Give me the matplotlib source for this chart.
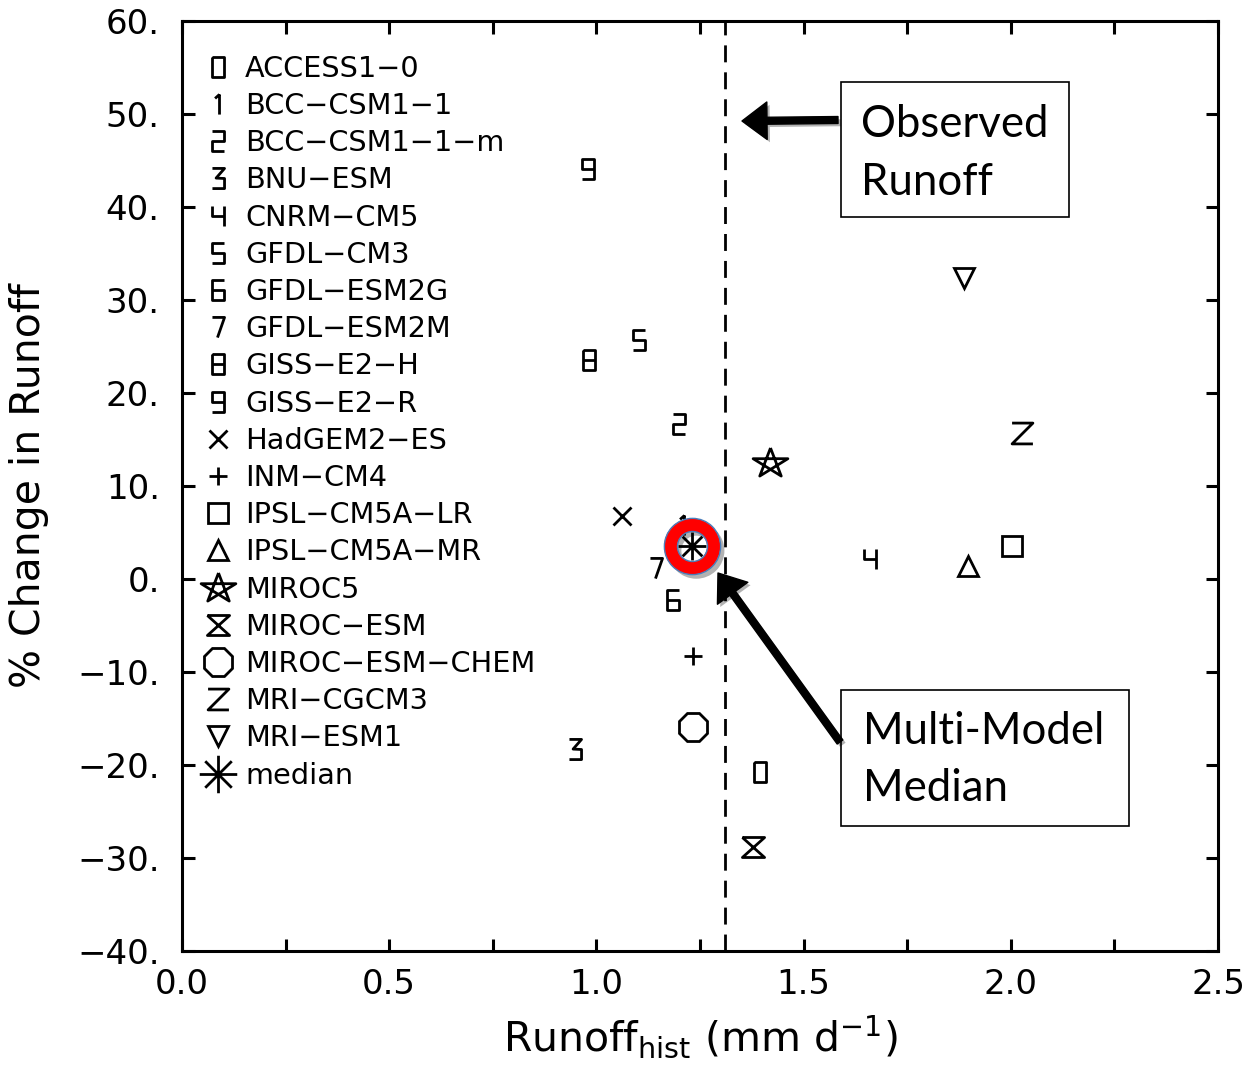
import numpy as np
import matplotlib
matplotlib.use("Agg")
import matplotlib.pyplot as plt
from matplotlib.path import Path
from matplotlib.patches import Rectangle, FancyArrowPatch
import matplotlib.patheffects as pe
from matplotlib.ticker import MultipleLocator, FuncFormatter

# ---------------- data ----------------
models = ["ACCESS1\u22120", "BCC\u2212CSM1\u22121", "BCC\u2212CSM1\u22121\u2212m", "BNU\u2212ESM",
          "CNRM\u2212CM5", "GFDL\u2212CM3", "GFDL\u2212ESM2G", "GFDL\u2212ESM2M",
          "GISS\u2212E2\u2212H", "GISS\u2212E2\u2212R", "HadGEM2\u2212ES", "INM\u2212CM4",
          "IPSL\u2212CM5A\u2212LR", "IPSL\u2212CM5A\u2212MR", "MIROC5", "MIROC\u2212ESM",
          "MIROC\u2212ESM\u2212CHEM", "MRI\u2212CGCM3", "MRI\u2212ESM1"]
runoff_hist = [1.395, 1.209, 1.200, 0.948, 1.660, 1.103, 1.185, 1.144, 0.982, 0.980,
               1.061, 1.233, 2.002, 1.897, 1.419, 1.378, 1.233, 2.027, 1.888]
pct_change = [-20.75, 5.8, 16.7, -18.3, 2.15, 25.7, -2.3, 1.2, 23.5, 44.1,
              6.8, -8.3, 3.5, 1.35, 12.5, -28.8, -15.9, 15.75, 32.4]
median_label = "median"
median_runoff = 1.231
median_change = 3.5
observed_runoff = 1.31

xlim = (0.0, 2.5)
ylim = (-40, 60)

# ---------------- marker shapes ----------------
def strokes(*lines):
    verts, codes = [], []
    for ln in lines:
        for i, p in enumerate(ln):
            verts.append(p)
            codes.append(Path.MOVETO if i == 0 else Path.LINETO)
    return Path(np.array(verts, float), codes)

w, h = 0.3, 0.5
TL, TR, ML, MR, BL, BR = (-w, h), (w, h), (-w, 0), (w, 0), (-w, -h), (w, -h)
digit = {
    0: strokes([TL, TR, BR, BL, TL]),
    1: strokes([(0.05, h), (0.05, -h)], [(0.05, h), (-0.17, 0.3)]),
    2: strokes([TL, TR, MR, ML, BL, BR]),
    3: strokes([TL, TR, (-0.12, 0.02), MR, BR, BL]),
    4: strokes([TL, ML, MR], [TR, BR]),
    5: strokes([TR, TL, ML, MR, BR, BL]),
    6: strokes([TR, TL, BL, BR, MR, ML]),
    7: strokes([TL, TR, (-0.05, -h)]),
    8: strokes([TL, TR, BR, BL, TL], [ML, MR]),
    9: strokes([MR, ML, TL, TR, BR, BL]),
}
z_mark = strokes([(-0.45, 0.45), (0.45, 0.45), (-0.45, -0.45), (0.45, -0.45)])
hourglass = strokes([(-0.5, 0.45), (0.5, 0.45), (-0.5, -0.45), (0.5, -0.45), (-0.5, 0.45)])
ang = np.deg2rad(90 + 72 * np.array([0, 2, 4, 1, 3, 0]))
star = strokes(list(zip(np.cos(ang), 0.85 * np.sin(ang))))
asterisk = strokes([(-1, 0), (1, 0)], [(0, -1), (0, 1)],
                   [(-0.707, -0.707), (0.707, 0.707)], [(-0.707, 0.707), (0.707, -0.707)])

marker_list = [digit[0], digit[1], digit[2], digit[3], digit[4], digit[5], digit[6],
               digit[7], digit[8], digit[9], "x", "+", "s", "^", star, hourglass, "8",
               z_mark, "v"]
size_list = [14.5, 14.5, 14.5, 14.5, 14.5, 14.5, 14.5, 14.5, 14.5, 14.5,
             13.5, 13.5, 15, 15, 25, 16, 22.5, 15, 15]

# ---------------- figure ----------------
plt.rcParams["font.family"] = ["DejaVu Sans"]
plt.rcParams["mathtext.fontset"] = "dejavusans"
W, H = 1255, 1068
fig = plt.figure(figsize=(W / 100, H / 100), dpi=100)
ax = fig.add_axes([182 / W, 1 - 951 / H, (1218 - 182) / W, (951 - 21) / H])

handles = []
for name, xv, yv, mk, ms in zip(models, runoff_hist, pct_change, marker_list, size_list):
    ln, = ax.plot([xv], [yv], linestyle="none", marker=mk, markersize=ms,
                  mfc="none", mec="black", mew=2.0, label=name, zorder=3)
    handles.append(ln)

ax.axvline(observed_runoff, color="black", lw=2.0, dashes=(6.1, 3.6), zorder=2)

# highlight ring around the median
ax.plot([median_runoff], [median_change], linestyle="none", marker="o", markersize=31,
        mfc="none", mec="#ff0000", mew=9.5, zorder=5,
        path_effects=[pe.SimpleLineShadow(offset=(3, -3), shadow_color="black", alpha=0.3),
                      pe.Normal()])
for msz in (40.5, 21.6):
    ax.plot([median_runoff], [median_change], linestyle="none", marker="o", markersize=msz,
            mfc="none", mec="#4a7ebb", mew=1.0, zorder=6)
med, = ax.plot([median_runoff], [median_change], linestyle="none", marker=asterisk,
               markersize=20, mfc="none", mec="black", mew=2.0, label=median_label, zorder=7)
handles.append(med)

ax.set_xlim(*xlim)
ax.set_ylim(*ylim)
ax.xaxis.set_major_locator(MultipleLocator(0.5))
ax.xaxis.set_minor_locator(MultipleLocator(0.25))
ax.yaxis.set_major_locator(MultipleLocator(10))
ax.xaxis.set_major_formatter(FuncFormatter(lambda v, p: f"{v:.1f}"))
ax.yaxis.set_major_formatter(FuncFormatter(lambda v, p: f"{v:.0f}.".replace("-", "\u2212")))
ax.tick_params(which="both", direction="in", top=True, right=True, length=9, width=2.2,
               labelsize=24.5)
ax.tick_params(axis="x", which="both", pad=12)
ax.tick_params(axis="y", which="both", pad=16)
for s in ax.spines.values():
    s.set_linewidth(2.2)

ax.set_xlabel(r"Runoff$_{\mathrm{hist}}$ (mm d$^{-1}$)", fontsize=29.5, labelpad=10)
ax.set_ylabel("% Change in Runoff", fontsize=29.5)
ax.yaxis.set_label_coords(-0.128, 0.5)

leg = ax.legend(handles=handles, loc="upper left", bbox_to_anchor=(0, 1 - 19.5 / 930),
                frameon=False, fontsize=20.7, handlelength=1.5, handletextpad=0.2,
                borderaxespad=0.3, borderpad=0.2, labelspacing=0.32, numpoints=1)
leg.legend_handles[-1].set_markersize(27)

# ---------------- annotations ----------------
def fx(px):
    return px / W

def fy(py):
    return 1 - py / H

for (x0, y0, x1, y1) in [(841, 82, 1069, 217), (841, 690, 1129, 826)]:
    fig.add_artist(Rectangle((fx(x0), fy(y1)), fx(x1) - fx(x0), fy(y0) - fy(y1),
                             transform=fig.transFigure, facecolor="white",
                             edgecolor="black", lw=1.2, zorder=10))
afont = dict(family=["Lato", "DejaVu Sans"], fontsize=31.5, zorder=11)
fig.text(fx(861), fy(137), "Observed", va="baseline", ha="left", **afont)
fig.text(fx(861), fy(195), "Runoff", va="baseline", ha="left", **afont)
fig.text(fx(863), fy(744), "Multi-Model", va="baseline", ha="left", **afont)
fig.text(fx(863), fy(801), "Median", va="baseline", ha="left", **afont)

for (ax0, ay0, ax1, ay1) in [(838, 120, 742, 121), (840, 742, 718, 573)]:
    arr = FancyArrowPatch((fx(ax0), fy(ay0)), (fx(ax1), fy(ay1)), transform=fig.transFigure,
                          arrowstyle="simple,head_length=1.8,head_width=2.7,tail_width=0.5",
                          mutation_scale=10, color="black", shrinkA=0, shrinkB=0, zorder=12,
                          path_effects=[pe.withSimplePatchShadow(offset=(2, -2), alpha=0.3)])
    fig.add_artist(arr)

fig.savefig("out.png", dpi=100)
